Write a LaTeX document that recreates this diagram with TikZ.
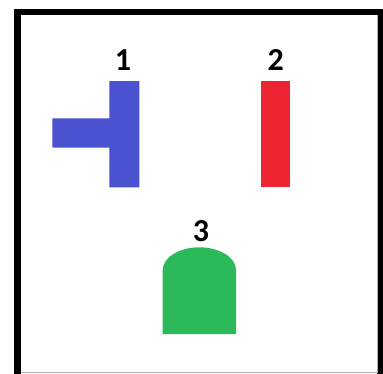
\documentclass[tikz,border=0pt]{standalone}
\usepackage{fontspec}
\setmainfont{Carlito}
\usepackage{tikz}
\definecolor{cBlue}{RGB}{74,82,208}
\definecolor{cRed}{RGB}{237,37,50}
\definecolor{cGreen}{RGB}{43,185,90}
\tikzset{
  tag/.style={inner sep=0pt, font=\fontsize{32}{32}\selectfont\bfseries},
  piece/.style={draw=none},
}
\begin{document}
\begin{tikzpicture}[x=1pt, y=-1pt]
  % pixel grid, y runs downwards
  \useasboundingbox (0,0) rectangle (383,373);
  \clip (0,0) rectangle (383,373);
  % frame
  \draw[line width=6.3pt] (17.5,12) rectangle (380.5,378);
  \draw[gray!60, line width=0.8pt] (377,15) -- (377,372) -- (21,372);
  % piece 1: T lying on its side
  \fill[cBlue, piece] (109.3,81) -- (139.3,81) -- (139.3,187.3) -- (109.3,187.3)
    -- (109.3,147.7) -- (52.3,147.7) -- (52.3,118.3) -- (109.3,118.3) -- cycle;
  % piece 2: bar
  \fill[cRed, piece] (260.7,80.7) rectangle (290.3,187.3);
  % piece 3: arch
  \fill[cGreen, piece] (162.7,334) -- (162.7,270)
    arc[start angle=180, end angle=0, x radius=36.65pt, y radius=22.7pt]
    -- (236,334) -- cycle;
  % numbers
  \node[tag] (n1) at (123,60.5) {1};
  \node[tag] (n2) at (275.8,60.5) {2};
  \node[tag] (n3) at (201,231) {3};
\end{tikzpicture}
\end{document}
